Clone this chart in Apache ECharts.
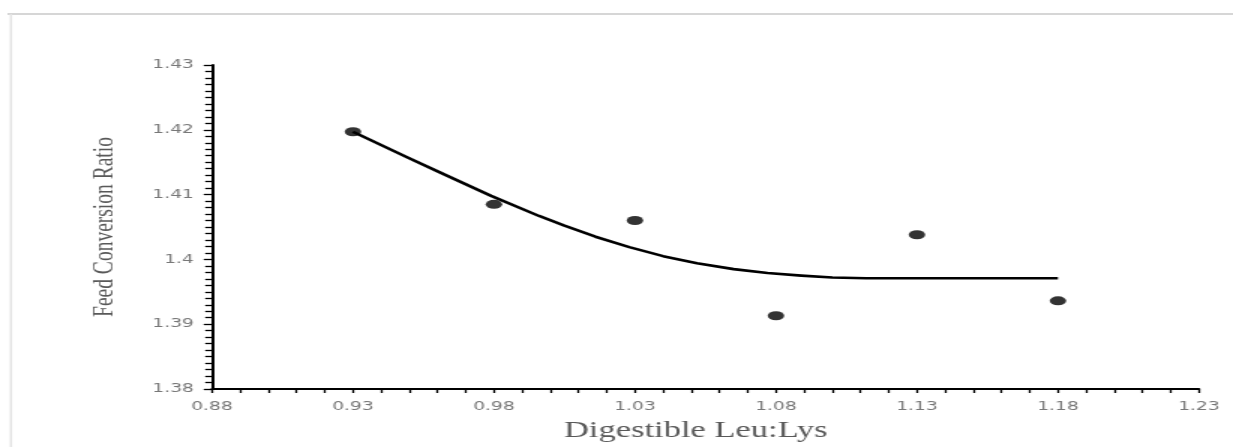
<!DOCTYPE html>
<html><head><meta charset="utf-8">
<script src="https://cdn.jsdelivr.net/npm/echarts@6/dist/echarts.min.js"></script>
<style>
html,body{margin:0;padding:0;background:#fff;overflow:hidden;}
#c{width:822px;height:447px;transform:scaleX(1.5);transform-origin:0 0;}
</style>
</head><body><div id="c"></div>
<script>
// Observed points
const leuLys = [0.93, 0.98, 1.03, 1.08, 1.13, 1.18];
const fcr = [1.4197, 1.4085, 1.4060, 1.3913, 1.4038, 1.3936];
// Fitted curve
const fitX = [0.930, 0.949, 0.961, 0.979, 0.996, 1.005, 1.016, 1.028, 1.040, 1.052, 1.065, 1.077, 1.089, 1.100, 1.112, 1.180];
const fitY = [1.4197, 1.4158, 1.4134, 1.4098, 1.4067, 1.4052, 1.4035, 1.4019, 1.4005, 1.3994, 1.3985, 1.3979, 1.3975, 1.3972, 1.3971, 1.3971];
// Tick labels
const xTickLabels = ['0.88', '0.93', '0.98', '1.03', '1.08', '1.13', '1.18', '1.23'];
const yTickLabels = ['1.38', '1.39', '1.4', '1.41', '1.42', '1.43'];

const chart = echarts.init(document.getElementById('c'), null, {renderer: 'canvas'});
const labelColor = '#787878';
const titleColor = '#595959';

chart.setOption({
  animation: false,
  backgroundColor: '#ffffff',
  graphic: [
    {type: 'line', shape: {x1: 5, y1: 14, x2: 830, y2: 14}, style: {stroke: '#c9c9c9', lineWidth: 1.5}},
    {type: 'line', shape: {x1: 7.3, y1: 14, x2: 7.3, y2: 460}, style: {stroke: '#e4e4e4', lineWidth: 1.5}}
  ],
  grid: {left: 141.3, right: 22.7, top: 65, bottom: 54, containLabel: false},
  xAxis: {
    type: 'value',
    min: 0.88, max: 1.23, interval: 0.01,
    name: 'Digestible Leu:Lys',
    nameLocation: 'middle',
    nameGap: 30,
    nameTextStyle: {fontFamily: 'Liberation Serif', fontSize: 23, color: titleColor, padding: [0, 13, 0, 0]},
    axisLine: {show: true, onZero: false, lineStyle: {color: '#000', width: 1.8}},
    axisTick: {show: true, inside: false, length: 4, lineStyle: {color: '#000', width: 1.3}},
    axisLabel: {
      margin: 11, color: labelColor, fontFamily: 'DejaVu Sans', fontSize: 12.5,
      formatter: function (v) { const s = v.toFixed(2); return xTickLabels.includes(s) ? s : ''; }
    },
    splitLine: {show: false}
  },
  yAxis: {
    type: 'value',
    min: 1.38, max: 1.43, interval: 0.01,
    name: 'Feed Conversion Ratio',
    nameLocation: 'middle',
    nameGap: 53,
    nameTextStyle: {fontFamily: 'Liberation Serif', fontSize: 19.5, color: titleColor, padding: [0, 0, 8, 0]},
    axisLine: {show: true, onZero: false, lineStyle: {color: '#000', width: 2}},
    axisTick: {show: true, inside: false, length: 5.5, lineStyle: {color: '#000', width: 1.3}},
    minorTick: {show: true, splitNumber: 10, length: 4.5, lineStyle: {color: '#000', width: 1.3}},
    axisLabel: {
      margin: 12, color: labelColor, fontFamily: 'DejaVu Sans', fontSize: 12.5,
      formatter: function (v) { const s = String(parseFloat(v.toFixed(2))); return yTickLabels.includes(s) ? s : ''; }
    },
    splitLine: {show: false},
    minorSplitLine: {show: false}
  },
  series: [
    {
      type: 'line',
      data: fitX.map((x, i) => [x, fitY[i]]),
      smooth: false,
      showSymbol: false,
      symbol: 'none',
      lineStyle: {color: '#000', width: 2.6, join: 'round'},
      z: 2
    },
    {
      type: 'scatter',
      data: leuLys.map((x, i) => [x, fcr[i]]),
      symbol: 'circle',
      symbolSize: [11, 9],
      itemStyle: {color: '#000'},
      z: 3
    }
  ]
});
</script>
</body></html>
